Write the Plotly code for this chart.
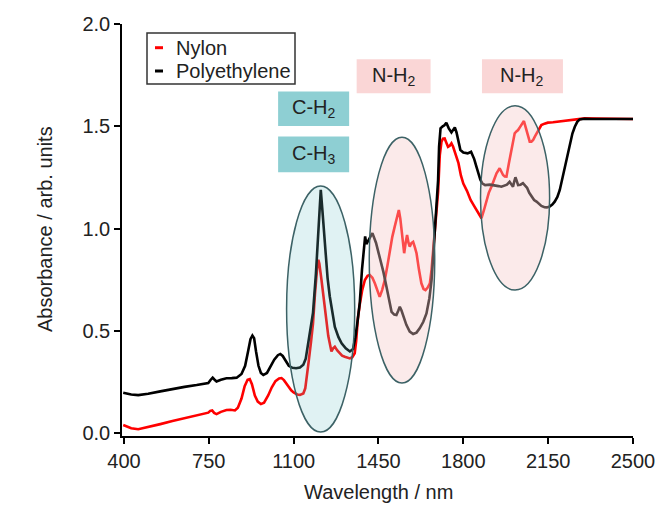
import plotly.graph_objects as go

# --- spectra (wavelength in nm, absorbance in arb. units) ---
wl_pe = [397, 430, 459, 500, 550, 600, 650, 700, 748, 758, 766, 774, 782, 800, 823, 845, 865,
         885, 900, 912, 922, 930, 937, 945, 955, 965, 975, 990, 1005, 1020, 1035, 1045, 1055,
         1068, 1080, 1095, 1110, 1126, 1140, 1150, 1165, 1180, 1192, 1201, 1207, 1212, 1218,
         1229, 1240, 1249, 1260, 1270, 1285, 1298, 1315, 1332, 1345, 1355, 1365, 1373, 1382,
         1389, 1395, 1400, 1410, 1425, 1440, 1455, 1470, 1483, 1495, 1504, 1515, 1524, 1532,
         1538, 1545, 1552, 1565, 1579, 1593, 1607, 1620, 1635, 1648, 1660, 1669, 1676, 1682,
         1690, 1696, 1700, 1706, 1715, 1722, 1730, 1740, 1751, 1758, 1765, 1772, 1780, 1788,
         1800, 1818, 1832, 1845, 1854, 1862, 1870, 1878, 1890, 1910, 1930, 1945, 1957, 1970,
         1980, 1991, 2000, 2005, 2010, 2015, 2020, 2026, 2036, 2046, 2055, 2063, 2072, 2081,
         2092, 2102, 2112, 2122, 2135, 2145, 2156, 2167, 2177, 2188, 2198, 2208, 2218, 2229,
         2239, 2250, 2260, 2270, 2280, 2300, 2330, 2360, 2400, 2450, 2500]
abs_pe = [0.198, 0.190, 0.187, 0.193, 0.205, 0.217, 0.227, 0.236, 0.246, 0.262, 0.272, 0.262,
          0.253, 0.262, 0.269, 0.270, 0.272, 0.290, 0.330, 0.400, 0.460, 0.478, 0.465, 0.400,
          0.330, 0.295, 0.285, 0.295, 0.325, 0.360, 0.382, 0.388, 0.378, 0.350, 0.330, 0.320,
          0.318, 0.322, 0.335, 0.365, 0.470, 0.590, 0.780, 0.990, 1.120, 1.190, 1.100, 0.910,
          0.760, 0.670, 0.580, 0.520, 0.470, 0.440, 0.415, 0.400, 0.412, 0.470, 0.560, 0.640,
          0.800, 0.912, 0.962, 0.925, 0.945, 0.978, 0.930, 0.863, 0.790, 0.716, 0.640, 0.594,
          0.580, 0.578, 0.600, 0.619, 0.600, 0.578, 0.530, 0.497, 0.485, 0.492, 0.513, 0.545,
          0.586, 0.660, 0.749, 0.870, 0.993, 1.150, 1.238, 1.400, 1.490, 1.500, 1.505, 1.518,
          1.490, 1.470, 1.480, 1.495, 1.470, 1.430, 1.384, 1.372, 1.368, 1.376, 1.340, 1.303,
          1.270, 1.240, 1.222, 1.213, 1.215, 1.213, 1.208, 1.205, 1.210, 1.215, 1.229, 1.215,
          1.205, 1.230, 1.251, 1.235, 1.213, 1.215, 1.222, 1.210, 1.200, 1.175, 1.156, 1.140,
          1.132, 1.120, 1.111, 1.105, 1.104, 1.108, 1.118, 1.132, 1.155, 1.189, 1.245, 1.303,
          1.365, 1.417, 1.465, 1.498, 1.522, 1.534, 1.537, 1.536, 1.536, 1.536, 1.537, 1.536]

wl_ny = [397, 430, 459, 500, 550, 600, 650, 700, 748, 756, 764, 772, 782, 800, 823, 840, 858,
         870, 885, 898, 910, 919, 928, 940, 952, 965, 978, 995, 1010, 1025, 1040, 1050, 1060,
         1075, 1090, 1100, 1115, 1126, 1140, 1148, 1153, 1162, 1172, 1180, 1188, 1194, 1199,
         1202, 1206, 1215, 1225, 1235, 1243, 1249, 1256, 1263, 1270, 1280, 1290, 1300, 1311,
         1322, 1332, 1342, 1352, 1358, 1365, 1373, 1383, 1394, 1405, 1414, 1425, 1435, 1445,
         1455, 1465, 1476, 1487, 1497, 1507, 1517, 1526, 1534, 1540, 1545, 1550, 1556, 1562,
         1568, 1574, 1579, 1586, 1593, 1600, 1607, 1617, 1627, 1636, 1644, 1653, 1662, 1669,
         1675, 1682, 1689, 1696, 1703, 1710, 1716, 1723, 1730, 1737, 1744, 1751, 1758, 1765,
         1772, 1780, 1790, 1800, 1815, 1830, 1845, 1855, 1865, 1875, 1885, 1895, 1905, 1916,
         1926, 1937, 1950, 1957, 1964, 1971, 1978, 1988, 1999, 2005, 2012, 2019, 2026, 2033,
         2040, 2045, 2050, 2055, 2060, 2067, 2074, 2081, 2088, 2095, 2102, 2112, 2122, 2135,
         2149, 2170, 2190, 2218, 2240, 2260, 2300, 2350, 2400, 2450, 2500]
abs_ny = [0.041, 0.025, 0.020, 0.030, 0.045, 0.060, 0.075, 0.088, 0.101, 0.110, 0.112, 0.100,
          0.094, 0.105, 0.114, 0.115, 0.112, 0.125, 0.170, 0.230, 0.262, 0.265, 0.240, 0.185,
          0.155, 0.143, 0.150, 0.185, 0.225, 0.255, 0.268, 0.270, 0.260, 0.235, 0.210, 0.200,
          0.190, 0.188, 0.195, 0.220, 0.260, 0.350, 0.450, 0.537, 0.680, 0.782, 0.835, 0.848,
          0.830, 0.749, 0.640, 0.537, 0.475, 0.440, 0.400, 0.415, 0.423, 0.405, 0.391, 0.380,
          0.374, 0.368, 0.366, 0.372, 0.391, 0.450, 0.560, 0.630, 0.700, 0.749, 0.770, 0.774,
          0.760, 0.733, 0.700, 0.667, 0.700, 0.749, 0.820, 0.896, 0.960, 1.010, 1.060, 1.091,
          1.050, 0.993, 0.930, 0.880, 0.930, 0.969, 0.930, 0.912, 0.930, 0.936, 0.910, 0.880,
          0.800, 0.733, 0.705, 0.700, 0.712, 0.733, 0.800, 0.880, 0.990, 1.075, 1.180, 1.360,
          1.425, 1.440, 1.441, 1.420, 1.400, 1.405, 1.417, 1.400, 1.375, 1.352, 1.320, 1.260,
          1.220, 1.185, 1.140, 1.110, 1.091, 1.070, 1.051, 1.090, 1.140, 1.175, 1.205, 1.235,
          1.270, 1.295, 1.280, 1.262, 1.255, 1.254, 1.320, 1.384, 1.430, 1.466, 1.475, 1.482,
          1.495, 1.506, 1.518, 1.526, 1.505, 1.482, 1.450, 1.425, 1.425, 1.433, 1.450, 1.466,
          1.490, 1.506, 1.513, 1.518, 1.520, 1.523, 1.528, 1.532, 1.536, 1.539, 1.538, 1.537,
          1.537, 1.536]

series_names = ["Nylon", "Polyethylene"]
x_ticks = [400, 750, 1100, 1450, 1800, 2150, 2500]
y_ticks = [0.0, 0.5, 1.0, 1.5, 2.0]

# Band assignments: (label, x0, x1, y0, y1, colour)
band_labels = [
    ("C-H<sub>2</sub>", 1036, 1329, 1.502, 1.670, "#8ecfd3"),
    ("C-H<sub>3</sub>", 1036, 1329, 1.276, 1.450, "#8ecfd3"),
    ("N-H<sub>2</sub>", 1360, 1665, 1.662, 1.828, "#fad6d6"),
    ("N-H<sub>2</sub>", 1877, 2211, 1.662, 1.828, "#fad6d6"),
]
# Highlighted absorption regions: (x0, x1, y0, y1, fill)
regions = [
    (1071, 1352, 0.006, 1.209, "rgba(115,195,200,0.22)"),
    (1412, 1682, 0.246, 1.447, "rgba(245,200,200,0.38)"),
    (1871, 2156, 0.700, 1.600, "rgba(245,200,200,0.38)"),
]

FONT = "Liberation Sans, Arial, sans-serif"
TXT = "#222222"
FS = 20

# plot-area geometry in pixels (for legend / axis-title placement)
W, H = 659, 505
L, R, T, B = 122, 26, 24, 69
PW, PH = W - L - R, H - T - B


def px(x):
    return (x - L) / PW


def py(y):
    return (T + PH - y) / PH


fig = go.Figure()
fig.add_trace(go.Scatter(x=wl_ny, y=abs_ny, mode="lines", name=series_names[0],
                         line=dict(color="#ff0000", width=2.6), showlegend=False))
fig.add_trace(go.Scatter(x=wl_pe, y=abs_pe, mode="lines", name=series_names[1],
                         line=dict(color="#000000", width=2.6), showlegend=False))

shapes = []
for x0, x1, y0, y1, fill in regions:
    shapes.append(dict(type="circle", xref="x", yref="y", x0=x0, x1=x1, y0=y0, y1=y1,
                       fillcolor=fill, line=dict(color="#3c6266", width=1.5), layer="above"))

annotations = []
for text, x0, x1, y0, y1, col in band_labels:
    shapes.append(dict(type="rect", xref="x", yref="y", x0=x0, x1=x1, y0=y0, y1=y1,
                       fillcolor=col, line=dict(width=0), layer="above"))
    annotations.append(dict(x=(x0 + x1) / 2, y=(y0 + y1) / 2, xref="x", yref="y",
                            xanchor="center", yanchor="middle",
                            text=text, showarrow=False,
                            font=dict(family=FONT, size=FS, color=TXT)))

# legend box drawn by hand: short line keys
shapes.append(dict(type="rect", xref="paper", yref="paper", x0=px(147), x1=px(295),
                   y0=py(84), y1=py(33), line=dict(color="#333333", width=1.5),
                   fillcolor="white", layer="above"))
for name, col, yy in [(series_names[0], "#ff0000", 47.7), (series_names[1], "#000000", 71)]:
    shapes.append(dict(type="line", xref="paper", yref="paper", x0=px(155), x1=px(163),
                       y0=py(yy), y1=py(yy), line=dict(color=col, width=3), layer="above"))
    annotations.append(dict(x=px(174), y=py(yy), xref="paper", yref="paper", text=name,
                            xanchor="left", yanchor="middle", showarrow=False,
                            font=dict(family=FONT, size=FS, color=TXT)))

# axis titles
annotations.append(dict(x=px(45), y=py(229), xref="paper", yref="paper",
                        xanchor="center", yanchor="middle",
                        text="Absorbance / arb. units", textangle=-90, showarrow=False,
                        font=dict(family=FONT, size=FS, color=TXT)))
annotations.append(dict(x=px(378), y=py(492), xref="paper", yref="paper",
                        xanchor="center", yanchor="middle",
                        text="Wavelength / nm", showarrow=False,
                        font=dict(family=FONT, size=FS, color=TXT)))

fig.update_layout(
    width=W, height=H,
    margin=dict(l=L, r=R, t=T, b=B, autoexpand=False),
    paper_bgcolor="white", plot_bgcolor="white",
    font=dict(family=FONT, size=FS, color=TXT),
    shapes=shapes, annotations=annotations,
    showlegend=False,
)
fig.update_xaxes(range=[392, 2500], tickvals=x_ticks, ticks="outside", ticklen=6,
                 tickwidth=1.5, tickcolor="black", showline=True, linecolor="black",
                 linewidth=1.5, showgrid=False, zeroline=False, automargin=False,
                 tickfont=dict(family=FONT, size=FS, color=TXT))
fig.update_yaxes(range=[-0.013, 2.0], tickvals=y_ticks, tickformat=".1f", ticks="outside",
                 ticklen=6, tickwidth=1.5, tickcolor="black", showline=True,
                 linecolor="black", linewidth=1.5, showgrid=False, zeroline=False,
                 automargin=False,
                 tickfont=dict(family=FONT, size=FS, color=TXT))

fig.write_html("out.html")
